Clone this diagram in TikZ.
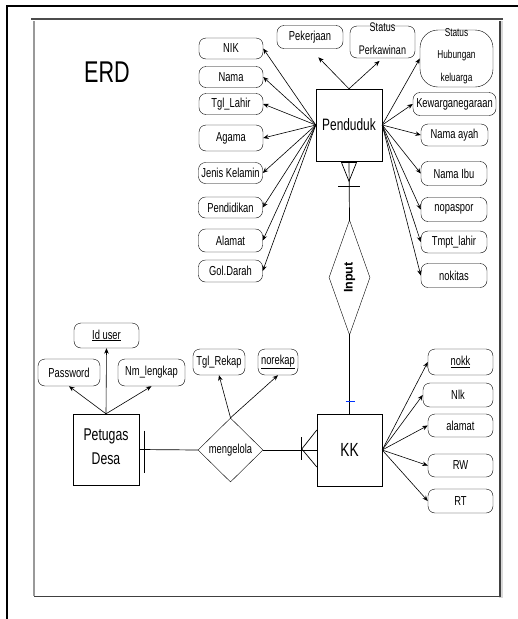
\documentclass[tikz,border=0pt]{standalone}
\usepackage{fontspec}
\setmainfont{Liberation Sans}[FakeStretch=0.72]
\newfontfamily\plainsans{Liberation Sans}
\usetikzlibrary{shapes.geometric,arrows.meta,calc}
\newcommand{\fs}[1]{\fontsize{#1}{#1}\selectfont}
\begin{document}
\begin{tikzpicture}[x=1pt,y=-1pt,
  attr/.style={draw, rounded corners=7pt, inner sep=0pt, minimum width=64pt, minimum height=21pt, font=\fs{13}},
  ent/.style={draw, inner sep=0pt, minimum width=66pt, minimum height=72pt},
  rel/.style={draw, diamond, inner sep=0pt, aspect=0.5},
  arr/.style={-{Stealth[length=5.5pt,width=4.5pt]}, line width=0.6pt},
  ln/.style={line width=0.7pt}]
\useasboundingbox (0,0) rectangle (518,619);
\fill[white] (0,0) rectangle (518,619);
% outer cell border
\draw[line width=2pt] (6.5,619) -- (6.5,6) -- (518,6);
% inner frame
\fill[black!15] (499,21) rectangle (503,598);
\draw[black!40, line width=1.2pt] (34,21) -- (34,596);
\draw[black!75, line width=1.3pt] (34,596.5) -- (500,596.5) -- (500,21);
\draw[black!70, line width=2pt] (31,19) -- (503,19);

\node[font=\fs{30}] (erd) at (107,72) {ERD};

% Penduduk
\node[ent, font=\fs{16.5}] (pdd) at (349,125) {Penduduk};
\node[attr] (nik) at (231,48.5) {NIK};
\node[attr] (nama) at (231,77) {Nama};
\node[attr] (tgl) at (231,104) {Tgl\_Lahir};
\node[attr, minimum height=26pt] (aga) at (231,138) {Agama};
\node[attr] (jk) at (230.5,173) {Jenis Kelamin};
\node[attr] (pdk) at (230.5,207.5) {Pendidikan};
\node[attr, minimum height=23pt] (alm) at (230.5,240.5) {Alamat};
\node[attr, minimum height=22pt] (gol) at (230.5,271) {Gol.Darah};

\node[attr, minimum width=66pt, minimum height=23pt] (pek) at (310,37) {Pekerjaan};
\node[attr, minimum width=65pt, minimum height=32pt, font=\fs{12.5}] (sp) at (382.5,42)
  {\raisebox{-3pt}{\smash{\begin{tabular}{@{}c@{}}Status\\[10.5pt]Perkawinan\end{tabular}}}};
\node[attr, rounded corners=18pt, minimum width=73pt, minimum height=57pt, font=\fs{11.5}] (shk) at (456.5,58.5)
  {\raisebox{-2pt}{\smash{\begin{tabular}{@{}c@{}}Status\\[11pt]Hubungan\\[11pt]keluarga\end{tabular}}}};
\node[attr, minimum width=83pt, minimum height=23pt] (kew) at (454.5,104) {Kewarganegaraan};
\node[attr, minimum width=67pt, minimum height=22pt] (ayah) at (454.5,135) {Nama ayah};
\node[attr, minimum width=66pt, minimum height=24pt] (ibu) at (454,173.5) {Nama Ibu};
\node[attr, minimum width=66pt, minimum height=24pt] (nps) at (454,209.5) {nopaspor};
\node[attr, minimum width=66pt, minimum height=22pt] (tmp) at (454,242) {Tmpt\_lahir};
\node[attr, minimum width=66pt, minimum height=24pt] (nkt) at (454,275.5) {nokitas};

\foreach \n in {nik,nama,tgl,aga,jk,pdk,alm,gol} \draw[arr] (pdd.west) -- (\n.east);
\foreach \n in {shk,kew,ayah,ibu,nps,tmp,nkt} \draw[arr] (pdd.east) -- (\n.west);
\draw[arr, shorten >=12pt] (pdd.north) -- (pek.south);
\draw[arr, shorten >=4pt] (pdd.north) -- (sp.south);

% Input relationship
\node[rel, aspect=0.3, minimum width=41pt, minimum height=115pt] (inp) at (349.5,277.5)
  {\rotatebox{90}{\plainsans\bfseries\fs{12.5}Input}};
\node[ent, minimum width=65pt, font=\fs{19}] (kk) at (349.5,450) {KK};
\draw[ln] (pdd.south) -- (inp.north);
\draw[ln] (inp.south) -- (kk.north);
\draw[ln] ($(pdd.south)+(-8,0)$) -- ($(pdd.south)+(0,20)$) -- ($(pdd.south)+(8,0)$);
\draw[line width=1.6pt] ($(pdd.south)+(-7,1)$) -- ($(pdd.south)+(7,1)$);
\draw[ln] ($(pdd.south)+(-11,25)$) -- ($(pdd.south)+(11,25)$);
\draw[blue!80!cyan, line width=0.9pt] ($(kk.north)+(-4,-12)$) -- ($(kk.north)+(5,-12)$);

% Petugas Desa
\node[ent, minimum width=66pt, minimum height=71pt, font=\fs{17}, align=center] (pet) at (106,449.5)
  {\begin{tabular}{@{}c@{}}Petugas\\[7pt]Desa\end{tabular}};
\node[attr, minimum width=65pt, minimum height=25pt] (idu) at (106.5,335.5) {\underline{Id user}};
\node[attr, minimum width=62pt, minimum height=27pt] (pw) at (69,372.5) {Password};
\node[attr, minimum width=67pt, minimum height=27pt] (nml) at (151.5,372.5) {Nm\_lengkap};
\draw[arr] (pet.north) -- (idu.south);
\draw[arr] (pet.north) -- (pw.south);
\draw[arr] (pet.north) -- (nml.south);

% mengelola
\node[rel, aspect=1, minimum width=65pt, minimum height=64pt, font=\fs{13}] (mg) at (230.5,450) {mengelola};
\node[attr, minimum width=52pt, minimum height=26pt] (tglr) at (219,362) {Tgl\_Rekap};
\node[attr, minimum width=40pt, minimum height=26pt] (nrk) at (278,362) {\underline{norekap}};
\draw[arr] (mg.north) -- (tglr.south);
\draw[arr] (mg.north) -- (nrk.south);
\draw[ln] (pet.east) -- (mg.west);
\draw[ln] (mg.east) -- (kk.west);
\draw[ln] ($(pet.east)+(5,-19)$) -- ($(pet.east)+(5,23)$);
\draw[ln] ($(kk.west)+(0,-20)$) -- ($(kk.west)+(-15,-1)$) -- ($(kk.west)+(0,17)$);
\draw[ln] ($(kk.west)+(-15,-13)$) -- ($(kk.west)+(-15,10)$);

% KK attributes
\node[attr, minimum width=65pt, minimum height=26pt] (nokk) at (460.5,362) {\underline{nokk}};
\node[attr, minimum width=70pt, minimum height=24pt] (nlk) at (458,395) {Nlk};
\node[attr, minimum width=65pt, minimum height=23pt] (kal) at (460.5,425.5) {alamat};
\node[attr, minimum width=65pt, minimum height=23pt] (rw) at (460.5,465.5) {RW};
\node[attr, minimum width=65pt, minimum height=24pt] (rt) at (460.5,501) {RT};
\foreach \n in {nokk,nlk,kal,rw,rt} \draw[arr] (kk.east) -- (\n.west);
\end{tikzpicture}
\end{document}
